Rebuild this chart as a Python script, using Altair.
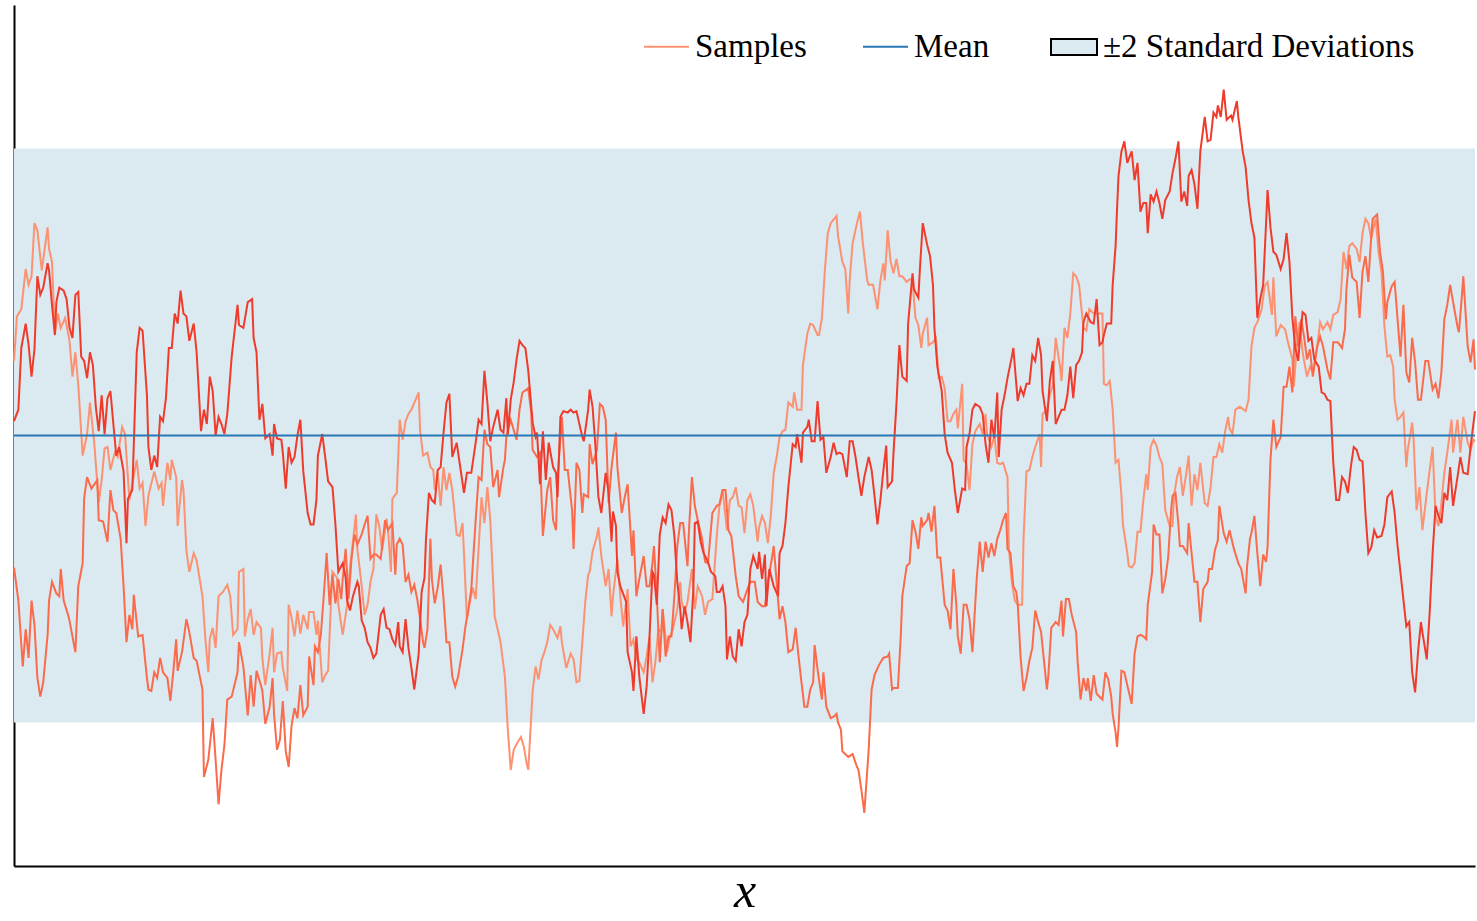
import altair as alt
import pandas as pd

# ---------------- data (x in arbitrary input units 0..10, y in standard deviations) ----------------
x_domain = [0, 10]
y_domain = [-3, 3]
mean_level = 0.0
band_half_width = 2.0
split_x = 4.86  # where the light and medium samples touch and swap paths

series_names = ["Samples", "Sample 2", "Sample 3", "Mean"]
series_colors = ["#fc9272", "#fb6a4a", "#ef3b2c", "#2878b5"]
band_label = "\u00b12 Standard Deviations"
band_color = "#dbe9f1"

# path starting high on the left, ending in the lower path at the right
path_a = [
    (0, .52), (.02, .83), (.05, .88), (.08, 1.16), (.10, 1.05), (.12, 1.11), (.14, 1.48), (.16, 1.43), (.19, 1.15), (.23, 1.45),
    (.24, 1.30), (.26, 1.21), (.28, .71), (.30, .85), (.32, .75), (.35, .82), (.38, .66), (.40, .41), (.42, .58), (.44, .35),
    (.47, -.14), (.50, .01), (.52, .23), (.55, -.06), (.58, -.47), (.60, -.31), (.62, -.09), (.64, -.08), (.66, -.24), (.69, -.12),
    (.71, -.15), (.74, .06), (.76, .01), (.79, -.45), (.84, -.17), (.86, -.37), (.88, -.33), (.90, -.63), (.92, -.42), (.96, -.25),
    (.99, -.37), (1.01, -.33), (1.02, -.49), (1.05, -.19), (1.07, -.31), (1.08, -.17), (1.11, -.29), (1.12, -.63), (1.15, -.31), (1.16, -.38),
    (1.18, -.80), (1.20, -.95), (1.23, -.82), (1.25, -.87), (1.29, -1.12), (1.31, -1.42), (1.33, -1.65), (1.34, -1.42), (1.36, -1.34), (1.38, -1.48),
    (1.40, -1.12), (1.43, -1.09), (1.46, -1.04), (1.48, -1.12), (1.50, -1.39), (1.53, -1.35), (1.54, -.95), (1.57, -.93), (1.58, -1.40), (1.60, -1.28),
    (1.62, -1.21), (1.64, -1.39), (1.66, -1.30), (1.69, -1.34), (1.70, -1.55), (1.72, -1.74), (1.75, -1.52), (1.77, -1.34), (1.78, -1.65), (1.80, -1.52),
    (1.83, -1.51), (1.84, -1.62), (1.87, -1.78), (1.88, -1.18), (1.90, -1.27), (1.92, -1.40), (1.94, -1.22), (1.96, -1.38), (1.98, -1.25), (2.01, -1.35),
    (2.02, -1.23), (2.05, -1.23), (2.07, -1.39), (2.08, -1.29), (2.11, -1.72), (2.13, -1.67), (2.15, -1.64), (2.17, -1.15), (2.18, -.95), (2.21, -.99),
    (2.22, -1.18), (2.25, -1.39), (2.26, -1.32), (2.28, -1.18), (2.30, -.92), (2.32, -.74), (2.34, -.55), (2.35, -.79), (2.38, -1.05), (2.40, -1.25),
    (2.42, -1.18), (2.44, -1.02), (2.46, -.93), (2.48, -.55), (2.50, -.63), (2.52, -.80), (2.55, -.58), (2.56, -.66), (2.58, -.95), (2.59, -.44),
    (2.62, -.40), (2.64, .11), (2.66, -.03), (2.68, .10), (2.70, .15), (2.72, .18), (2.77, .30), (2.78, .03), (2.80, -.14), (2.83, -.12),
    (2.85, -.22), (2.87, -.24), (2.88, -.38), (2.90, -.26), (2.92, -.49), (2.94, -.22), (2.96, -.38), (2.98, -.26), (3.00, -.38), (3.03, -.69),
    (3.05, -.70), (3.07, -.61), (3.08, -.82), (3.10, -1.28), (3.12, -1.16), (3.14, -1.06), (3.16, -1.14), (3.18, -.79), (3.20, -.43), (3.22, -.61),
    (3.24, -.36), (3.26, -.59), (3.29, -1.26), (3.33, -1.44), (3.36, -1.68), (3.38, -2.05), (3.40, -2.33), (3.42, -2.19), (3.44, -2.15), (3.47, -2.10),
    (3.49, -2.17), (3.51, -2.29), (3.52, -2.33), (3.55, -1.78), (3.57, -1.61), (3.59, -1.70), (3.61, -1.57), (3.63, -1.51), (3.65, -1.44), (3.67, -1.32),
    (3.69, -1.35), (3.72, -1.41), (3.74, -1.33), (3.75, -1.44), (3.78, -1.62), (3.81, -1.52), (3.83, -1.56), (3.85, -1.72), (3.87, -1.71), (3.89, -1.44),
    (3.91, -1.16), (3.93, -.97), (3.94, -.95), (3.96, -.81), (3.99, -.70), (4.00, -.64), (4.02, -.84), (4.05, -1.05), (4.07, -.93), (4.09, -1.26),
    (4.10, -1.12), (4.13, -.86), (4.15, -1.12), (4.17, -1.33), (4.20, -1.07), (4.22, -1.47), (4.24, -1.42), (4.26, -1.56), (4.28, -1.58), (4.31, -1.65),
    (4.33, -1.54), (4.35, -1.40), (4.37, -1.72), (4.39, -1.58), (4.41, -1.35), (4.43, -1.37), (4.44, -1.21), (4.47, -1.51), (4.49, -1.40), (4.51, -1.35),
    (4.54, -1.21), (4.56, -1.02), (4.57, -1.16), (4.59, -1.23), (4.61, -1.16), (4.64, -.93), (4.66, -1.21), (4.68, -1.05), (4.71, -1.12), (4.73, -1.25),
    (4.75, -1.16), (4.78, -1.14), (4.81, -.70), (4.83, -.47), (4.85, -.38), (4.87, -.38), (4.89, -.66), (4.91, -.70), (4.94, -.98), (4.96, -1.12),
    (4.99, -1.16), (5.02, -1.07), (5.04, -1.02), (5.07, -1.02), (5.09, -1.16), (5.12, -1.19), (5.14, -1.19), (5.16, -1.02), (5.19, -.84), (5.20, -.77),
    (5.22, -1.02), (5.24, -1.28), (5.26, -1.19), (5.28, -1.30), (5.30, -1.51), (5.33, -1.49), (5.35, -1.34), (5.37, -1.54), (5.39, -1.72), (5.41, -1.89),
    (5.43, -1.89), (5.45, -1.77), (5.47, -1.72), (5.48, -1.46), (5.50, -1.63), (5.53, -1.84), (5.54, -1.65), (5.56, -1.89), (5.59, -1.97), (5.61, -1.96),
    (5.63, -1.94), (5.64, -2.00), (5.66, -2.05), (5.67, -2.20), (5.71, -2.24), (5.74, -2.22), (5.77, -2.31), (5.78, -2.33), (5.80, -2.47), (5.82, -2.63),
    (5.85, -2.19), (5.87, -1.77), (5.89, -1.67), (5.92, -1.60), (5.95, -1.55), (5.98, -1.54), (5.99, -1.52), (6.01, -1.77), (6.02, -1.76), (6.05, -1.76),
    (6.07, -1.39), (6.08, -1.12), (6.11, -.91), (6.13, -.89), (6.15, -.59), (6.17, -.67), (6.19, -.79), (6.21, -.57), (6.22, -.63), (6.25, -.59),
    (6.26, -.54), (6.28, -.67), (6.30, -.49), (6.32, -.85), (6.34, -.85), (6.37, -1.18), (6.39, -1.22), (6.41, -1.35), (6.43, -.93), (6.45, -1.18),
    (6.46, -1.40), (6.48, -1.52), (6.50, -1.18), (6.52, -1.18), (6.54, -1.28), (6.56, -1.51), (6.59, -.99), (6.61, -.74), (6.63, -.95), (6.65, -.74),
    (6.67, -.85), (6.69, -.75), (6.71, -.84), (6.73, -.72), (6.75, -.66), (6.77, -.59), (6.79, -.54), (6.80, -.79), (6.82, -.82), (6.84, -1.05),
    (6.86, -1.09), (6.87, -1.17), (6.89, -1.55), (6.91, -1.78), (6.93, -1.69), (6.95, -1.57), (6.97, -1.48), (6.99, -1.22), (7.01, -1.30), (7.03, -1.37),
    (7.05, -1.57), (7.07, -1.77), (7.08, -1.67), (7.10, -1.34), (7.13, -1.30), (7.15, -1.32), (7.17, -1.15), (7.18, -1.40), (7.20, -1.14), (7.22, -1.14),
    (7.24, -1.25), (7.27, -1.37), (7.28, -1.57), (7.30, -1.84), (7.32, -1.69), (7.34, -1.78), (7.35, -1.69), (7.37, -1.85), (7.39, -1.67), (7.41, -1.80),
    (7.43, -1.82), (7.45, -1.84), (7.47, -1.65), (7.49, -1.70), (7.51, -1.82), (7.52, -1.94), (7.54, -2.07), (7.55, -2.17), (7.56, -2.03), (7.58, -1.64),
    (7.60, -1.65), (7.62, -1.74), (7.65, -1.87), (7.67, -1.52), (7.69, -1.40), (7.71, -1.39), (7.73, -1.40), (7.75, -1.42), (7.76, -1.18), (7.79, -.95),
    (7.80, -.62), (7.82, -.69), (7.84, -.69), (7.86, -1.10), (7.88, -1.00), (7.90, -.85), (7.92, -.52), (7.93, -.42), (7.95, -.40), (7.97, -.62),
    (7.98, -.77), (8.00, -.77), (8.03, -.82), (8.04, -.61), (8.06, -.82), (8.08, -1.02), (8.10, -1.02), (8.12, -1.30), (8.14, -1.07), (8.17, -1.02),
    (8.18, -.93), (8.20, -.93), (8.22, -.80), (8.24, -.73), (8.25, -.49), (8.28, -.68), (8.30, -.74), (8.32, -.66), (8.35, -.79), (8.38, -.89),
    (8.40, -.93), (8.43, -1.10), (8.44, -.91), (8.46, -.72), (8.47, -.68), (8.49, -.56), (8.51, -.82), (8.53, -1.05), (8.55, -.83), (8.57, -.88),
    (8.58, -.78), (8.60, -.17), (8.62, .11), (8.64, -.08), (8.67, -.01), (8.69, .34), (8.71, .34), (8.73, .48), (8.75, .30), (8.77, .83),
    (8.79, .62), (8.81, .81), (8.83, .69), (8.85, .53), (8.87, .60), (8.89, .41), (8.92, .62), (8.94, .69), (8.96, .62), (8.99, .46),
    (9.01, .39), (9.03, .65), (9.06, .65), (9.09, .61), (9.11, .74), (9.12, 1.02), (9.14, 1.26), (9.16, 1.10), (9.19, 1.07), (9.21, .82),
    (9.23, 1.14), (9.25, 1.25), (9.27, 1.07), (9.29, 1.39), (9.30, 1.51), (9.33, 1.54), (9.35, 1.28), (9.37, 1.14), (9.39, .81), (9.40, .93),
    (9.43, 1.04), (9.45, 1.07), (9.47, .81), (9.49, .55), (9.51, .91), (9.53, .44), (9.55, .37), (9.57, .68), (9.59, .51), (9.61, .25),
    (9.63, .25), (9.66, .52), (9.68, .52), (9.71, .32), (9.73, .36), (9.75, .26), (9.77, .44), (9.79, .81), (9.81, .91), (9.83, 1.05),
    (9.85, .93), (9.88, .76), (9.89, .72), (9.91, .97), (9.92, 1.11), (9.95, .62), (9.97, .51), (9.99, .67), (10.0, .46),
]

# path starting low on the left, ending in the upper path at the right
path_b = [
    (0, -.92), (.03, -1.15), (.06, -1.61), (.08, -1.35), (.10, -1.55), (.12, -1.15), (.14, -1.32), (.16, -1.69), (.18, -1.82), (.20, -1.72),
    (.23, -1.39), (.24, -1.15), (.26, -1.02), (.29, -1.10), (.31, -1.12), (.32, -.93), (.34, -1.15), (.37, -1.25), (.38, -1.29), (.40, -1.40),
    (.42, -1.51), (.44, -1.05), (.47, -.89), (.48, -.44), (.50, -.29), (.53, -.37), (.57, -.31), (.58, -.59), (.61, -.60), (.64, -.74),
    (.66, -.38), (.68, -.52), (.70, -.54), (.73, -.72), (.75, -1.05), (.77, -1.44), (.79, -1.25), (.81, -1.35), (.82, -1.11), (.85, -1.40),
    (.88, -1.39), (.91, -1.69), (.92, -1.77), (.94, -1.78), (.96, -1.65), (.98, -1.69), (1.00, -1.55), (1.02, -1.65), (1.05, -1.69), (1.07, -1.85),
    (1.09, -1.65), (1.11, -1.42), (1.12, -1.64), (1.15, -1.51), (1.18, -1.28), (1.20, -1.37), (1.23, -1.55), (1.25, -1.57), (1.29, -1.77), (1.30, -2.38),
    (1.33, -2.26), (1.36, -1.97), (1.38, -2.26), (1.40, -2.57), (1.42, -2.33), (1.44, -2.16), (1.46, -1.84), (1.49, -1.82), (1.53, -1.65), (1.54, -1.44),
    (1.57, -1.61), (1.60, -1.95), (1.62, -1.67), (1.64, -1.89), (1.66, -1.64), (1.69, -1.74), (1.70, -1.78), (1.72, -2.01), (1.75, -1.89), (1.77, -1.69),
    (1.78, -1.94), (1.80, -2.19), (1.82, -2.12), (1.84, -1.85), (1.86, -2.20), (1.88, -2.31), (1.90, -2.02), (1.92, -1.90), (1.94, -1.97), (1.96, -1.74),
    (1.98, -1.95), (2.01, -1.89), (2.02, -1.54), (2.05, -1.74), (2.06, -1.47), (2.08, -1.51), (2.10, -1.39), (2.12, -1.12), (2.14, -.82), (2.16, -1.18),
    (2.18, -.97), (2.20, -1.17), (2.22, -1.00), (2.24, -1.14), (2.25, -1.00), (2.27, -.79), (2.29, -1.14), (2.31, -.86), (2.33, -.69), (2.35, -.76),
    (2.38, -.69), (2.40, -.62), (2.42, -.56), (2.44, -.86), (2.46, -.83), (2.48, -.83), (2.51, -.86), (2.54, -.59), (2.56, -.66), (2.59, -.61),
    (2.61, -.97), (2.62, -.76), (2.64, -.72), (2.66, -.76), (2.68, -1.02), (2.70, -.97), (2.72, -1.09), (2.74, -1.04), (2.76, -1.14), (2.78, -1.28),
    (2.80, -1.44), (2.81, -1.48), (2.83, -1.35), (2.85, -.72), (2.86, -1.00), (2.88, -1.17), (2.90, -1.06), (2.92, -.90), (2.94, -1.14), (2.96, -1.44),
    (2.98, -1.44), (3.00, -1.68), (3.02, -1.75), (3.04, -1.68), (3.07, -1.49), (3.09, -1.33), (3.11, -1.21), (3.13, -1.07), (3.16, -.59), (3.18, -.29),
    (3.20, -.31), (3.22, .04), (3.24, -.06), (3.26, -.08), (3.28, -.36), (3.31, -.24), (3.32, -.43), (3.35, -.22), (3.36, -.17), (3.37, -.01),
    (3.40, .11), (3.42, .04), (3.44, -.03), (3.46, .18), (3.48, .30), (3.52, .33), (3.54, .16), (3.55, -.10), (3.58, -.15), (3.60, -.12),
    (3.62, -.70), (3.65, -.38), (3.67, -.29), (3.69, -.59), (3.71, -.66), (3.72, -.31), (3.75, .13), (3.77, -.24), (3.79, -.24), (3.82, -.52),
    (3.83, -.79), (3.85, -.19), (3.87, -.24), (3.89, -.54), (3.90, -.41), (3.93, -.43), (3.94, -.06), (3.96, -.20), (3.99, -.10), (4.01, .22),
    (4.03, .20), (4.05, .11), (4.07, -.47), (4.09, -.22), (4.12, .02), (4.13, -.22), (4.16, -.54), (4.18, -.43), (4.20, -.34), (4.23, -.84),
    (4.24, -.66), (4.26, -1.12), (4.28, -1.00), (4.31, -.84), (4.33, -1.05), (4.35, -1.05), (4.37, -.89), (4.38, -.77), (4.40, -1.12), (4.42, -1.58),
    (4.44, -1.21), (4.46, -1.54), (4.48, -1.40), (4.50, -1.40), (4.52, -1.12), (4.54, -.77), (4.56, -.61), (4.58, -.61), (4.61, -.91), (4.62, -.66),
    (4.64, -.29), (4.66, -.49), (4.68, -.59), (4.71, -.72), (4.73, -.88), (4.75, -.89), (4.78, -.54), (4.81, -.49), (4.83, -.48), (4.85, -.38),
    (4.88, -.66), (4.90, -.45), (4.92, -.43), (4.94, -.36), (4.96, -.49), (4.98, -.50), (5.00, -.68), (5.02, -.45), (5.04, -.41), (5.06, -.49),
    (5.09, -.74), (5.10, -.64), (5.12, -.56), (5.14, -.61), (5.16, -.75), (5.18, -.56), (5.20, -.26), (5.22, -.15), (5.24, -.01), (5.26, .03),
    (5.28, .04), (5.30, .23), (5.33, .20), (5.34, .30), (5.36, .18), (5.39, .18), (5.40, .49), (5.43, .71), (5.45, .78), (5.47, .77),
    (5.50, .70), (5.51, .70), (5.53, .82), (5.55, 1.15), (5.57, 1.41), (5.59, 1.48), (5.63, 1.53), (5.64, 1.39), (5.67, 1.21), (5.69, 1.16),
    (5.71, .85), (5.72, 1.08), (5.74, 1.34), (5.77, 1.48), (5.79, 1.56), (5.81, 1.34), (5.84, 1.08), (5.85, 1.05), (5.88, 1.05), (5.91, .88),
    (5.93, 1.08), (5.95, 1.20), (5.96, 1.08), (5.98, 1.43), (6.00, 1.21), (6.02, 1.13), (6.04, 1.23), (6.06, 1.11), (6.08, 1.11), (6.11, 1.07),
    (6.13, 1.09), (6.15, 1.08), (6.17, .82), (6.19, .77), (6.21, .61), (6.22, .71), (6.25, .82), (6.26, .63), (6.29, .65), (6.31, .68),
    (6.33, .40), (6.35, .41), (6.37, .33), (6.39, .10), (6.41, .10), (6.43, .15), (6.45, .18), (6.46, .05), (6.49, .36), (6.50, -.17),
    (6.52, -.20), (6.54, -.38), (6.56, -.06), (6.58, .03), (6.61, .08), (6.63, .01), (6.65, .15), (6.66, .01), (6.69, -.08), (6.71, 0),
    (6.73, -.19), (6.75, -.20), (6.77, -.19), (6.80, -.29), (6.81, -.79), (6.83, -1.02), (6.85, -1.15), (6.87, -1.18), (6.90, -1.18), (6.91, -.72),
    (6.93, -.25), (6.95, -.24), (6.97, -.15), (6.99, -.08), (7.02, .01), (7.03, -.22), (7.04, .15), (7.07, .18), (7.09, .28), (7.11, .35),
    (7.13, .68), (7.14, .61), (7.16, .48), (7.17, .38), (7.19, .75), (7.21, .68), (7.23, .85), (7.25, 1.13), (7.27, 1.11), (7.29, 1.05),
    (7.31, .85), (7.32, .75), (7.34, .73), (7.36, .88), (7.39, .85), (7.41, .85), (7.45, .85), (7.46, .36), (7.48, .35), (7.50, .38),
    (7.52, .18), (7.54, -.19), (7.56, -.17), (7.58, -.42), (7.59, -.62), (7.62, -.82), (7.63, -.91), (7.65, -.92), (7.67, -.89), (7.69, -.67),
    (7.71, -.67), (7.73, -.45), (7.75, -.27), (7.76, -.38), (7.78, -.08), (7.80, -.03), (7.82, -.07), (7.84, -.15), (7.86, -.20), (7.88, -.52),
    (7.91, -.63), (7.93, -.63), (7.94, -.42), (7.96, -.29), (7.98, -.22), (8.00, -.42), (8.02, -.29), (8.04, -.14), (8.06, -.49), (8.08, -.27),
    (8.10, -.38), (8.12, -.19), (8.15, -.47), (8.17, -.49), (8.19, -.36), (8.21, -.15), (8.23, -.15), (8.25, -.06), (8.27, -.12), (8.29, .03),
    (8.31, .13), (8.32, .05), (8.34, .01), (8.36, .18), (8.39, .20), (8.43, .17), (8.45, .25), (8.47, .62), (8.49, .75), (8.51, .79),
    (8.54, .88), (8.56, 1.04), (8.58, 1.07), (8.61, .84), (8.62, 1.10), (8.64, .69), (8.67, .77), (8.70, .74), (8.72, .65), (8.75, .53),
    (8.76, .34), (8.78, .62), (8.80, .79), (8.82, .58), (8.85, .41), (8.87, .48), (8.89, .44), (8.92, .62), (8.94, .79), (8.96, .74),
    (8.99, .79), (9.01, .74), (9.03, .84), (9.06, .86), (9.08, .95), (9.10, 1.28), (9.12, 1.16), (9.14, 1.32), (9.16, 1.34), (9.19, 1.30),
    (9.21, 1.21), (9.23, 1.41), (9.25, 1.51), (9.27, 1.48), (9.29, 1.37), (9.32, 1.51), (9.34, 1.28), (9.36, 1.14), (9.38, .76), (9.40, .55),
    (9.42, .56), (9.44, .48), (9.45, .25), (9.47, .11), (9.49, .13), (9.51, .16), (9.53, -.22), (9.54, -.10), (9.57, .09), (9.58, -.03),
    (9.60, -.52), (9.62, -.36), (9.64, -.66), (9.67, -.40), (9.69, -.24), (9.71, -.08), (9.73, -.56), (9.75, -.63), (9.77, -.47), (9.79, -.26),
    (9.81, -.12), (9.84, .11), (9.85, -.12), (9.88, .11), (9.90, -.12), (9.92, .13), (9.95, -.05), (9.97, -.10), (9.99, -.03), (10.0, -.04),
]

dark_pts = [
    (0, .10), (.03, .18), (.05, .61), (.08, .78), (.10, .63), (.12, .41), (.14, .60), (.16, 1.11), (.18, .98), (.20, 1.03),
    (.23, 1.20), (.24, 1.15), (.26, .91), (.28, .70), (.29, .93), (.31, 1.03), (.34, 1.01), (.36, .95), (.38, .75), (.40, .68),
    (.42, .98), (.44, 1.00), (.46, .55), (.48, .52), (.50, .40), (.52, .58), (.54, .49), (.56, .20), (.58, .03), (.60, .28),
    (.62, .01), (.64, .26), (.66, .31), (.68, .08), (.70, -.14), (.72, -.08), (.75, -.25), (.77, -.75), (.78, -.44), (.81, -.38),
    (.84, .58), (.86, .75), (.88, .73), (.91, .28), (.92, -.08), (.94, -.24), (.96, -.14), (.98, -.22), (1.00, .13), (1.02, .10),
    (1.04, .26), (1.06, .61), (1.08, .61), (1.10, .85), (1.12, .78), (1.14, 1.01), (1.16, .85), (1.18, .83), (1.20, .66), (1.23, .78),
    (1.25, .58), (1.26, .40), (1.28, .03), (1.30, .18), (1.32, .08), (1.34, .41), (1.36, .31), (1.38, 0), (1.40, .13), (1.42, .08),
    (1.44, .01), (1.46, .15), (1.49, .55), (1.51, .73), (1.53, .91), (1.54, .77), (1.57, .75), (1.60, .93), (1.63, .95), (1.64, .68),
    (1.66, .58), (1.68, .11), (1.70, .22), (1.72, -.02), (1.75, .01), (1.77, -.14), (1.78, .08), (1.80, -.02), (1.83, -.03), (1.84, -.12),
    (1.86, -.37), (1.88, -.08), (1.90, -.19), (1.92, -.15), (1.94, 0), (1.96, .11), (1.98, -.25), (2.01, -.54), (2.03, -.62), (2.05, -.62),
    (2.07, -.45), (2.08, -.14), (2.11, .01), (2.13, -.15), (2.15, -.32), (2.18, -.36), (2.20, -.62), (2.22, -.95), (2.25, -.89), (2.27, -.99),
    (2.28, -1.15), (2.30, -1.22), (2.32, -1.12), (2.35, -1.02), (2.36, -1.05), (2.38, -1.29), (2.40, -1.34), (2.42, -1.44), (2.44, -1.48), (2.46, -1.55),
    (2.48, -1.52), (2.51, -1.25), (2.53, -1.21), (2.55, -1.34), (2.57, -1.35), (2.59, -1.42), (2.61, -1.46), (2.63, -1.30), (2.64, -1.47), (2.66, -1.51),
    (2.68, -1.28), (2.70, -1.48), (2.72, -1.62), (2.74, -1.77), (2.77, -1.52), (2.79, -1.09), (2.81, -.99), (2.82, -.72), (2.84, -.40), (2.86, -.45),
    (2.88, -.47), (2.90, -.24), (2.92, -.22), (2.94, .02), (2.96, .23), (2.98, .29), (3.00, -.15), (3.03, -.05), (3.05, -.19), (3.08, -.40),
    (3.10, -.26), (3.13, -.26), (3.16, -.05), (3.18, .11), (3.20, .08), (3.22, .45), (3.24, .23), (3.26, -.04), (3.28, .06), (3.31, .18),
    (3.33, .04), (3.35, .02), (3.37, .26), (3.38, .01), (3.40, .25), (3.42, .37), (3.44, .53), (3.46, .66), (3.48, .63), (3.50, .61),
    (3.52, .45), (3.55, .09), (3.57, -.01), (3.58, .02), (3.60, -.34), (3.62, .03), (3.64, -.31), (3.66, -.05), (3.69, -.22), (3.71, -.26),
    (3.72, -.43), (3.74, .13), (3.76, .17), (3.79, .16), (3.81, .18), (3.83, .16), (3.85, .17), (3.89, -.01), (3.90, -.04), (3.93, .18),
    (3.94, .32), (3.96, .20), (3.98, -.08), (4.00, -.43), (4.02, -.54), (4.05, -.26), (4.07, -.40), (4.09, -.74), (4.10, -.53), (4.12, -.63),
    (4.13, -.95), (4.15, -1.05), (4.19, -1.16), (4.20, -1.51), (4.23, -1.65), (4.24, -1.78), (4.26, -1.40), (4.28, -1.68), (4.31, -1.94), (4.33, -1.75),
    (4.35, -1.40), (4.37, -.95), (4.38, -.97), (4.40, -1.18), (4.42, -.69), (4.44, -.57), (4.46, -.61), (4.48, -.48), (4.50, -.52), (4.52, -.70),
    (4.54, -1.02), (4.56, -1.21), (4.57, -1.35), (4.59, -1.19), (4.61, -1.30), (4.63, -1.44), (4.65, -1.07), (4.66, -.61), (4.68, -.60), (4.70, -.74),
    (4.72, -.82), (4.75, -.88), (4.77, -.95), (4.80, -.98), (4.81, -1.09), (4.83, -1.09), (4.85, -1.05), (4.87, -1.19), (4.88, -1.56), (4.90, -1.40),
    (4.92, -1.54), (4.94, -1.57), (4.96, -1.35), (4.98, -1.47), (5.00, -1.30), (5.02, -1.25), (5.04, -.93), (5.06, -.84), (5.09, -.93), (5.10, -.81),
    (5.12, -1.00), (5.14, -.83), (5.15, -1.19), (5.17, -.93), (5.20, -1.05), (5.23, -1.12), (5.24, -.82), (5.26, -.77), (5.28, -.61), (5.30, -.36),
    (5.33, -.06), (5.35, -.08), (5.36, .01), (5.39, -.19), (5.40, .02), (5.43, .06), (5.44, .11), (5.46, -.04), (5.48, -.04), (5.50, .24),
    (5.52, -.03), (5.54, -.01), (5.56, -.26), (5.59, -.15), (5.61, -.05), (5.63, -.13), (5.65, -.12), (5.67, -.13), (5.70, -.29), (5.72, -.04),
    (5.74, -.04), (5.76, -.15), (5.78, -.29), (5.80, -.42), (5.82, -.29), (5.85, -.15), (5.87, -.24), (5.89, -.42), (5.91, -.62), (5.93, -.45),
    (5.95, -.25), (5.97, -.07), (5.98, -.36), (6.01, -.32), (6.02, -.12), (6.04, .22), (6.06, .63), (6.08, .41), (6.11, .38), (6.12, .78),
    (6.15, 1.13), (6.16, 1.02), (6.19, .96), (6.20, 1.15), (6.22, 1.48), (6.25, 1.33), (6.27, 1.25), (6.29, 1.05), (6.30, .75), (6.32, .48),
    (6.35, .31), (6.37, .01), (6.39, -.12), (6.42, -.19), (6.44, -.38), (6.46, -.54), (6.49, -.37), (6.51, -.38), (6.52, -.08), (6.54, .01),
    (6.56, .18), (6.58, .22), (6.61, .20), (6.63, .15), (6.65, -.06), (6.67, -.19), (6.69, .11), (6.71, -.02), (6.73, .30), (6.74, -.15),
    (6.76, .18), (6.78, .28), (6.80, .40), (6.83, .55), (6.84, .61), (6.87, .24), (6.89, .33), (6.91, .28), (6.93, .36), (6.95, .36),
    (6.97, .56), (6.99, .52), (7.01, .68), (7.03, .56), (7.04, .31), (7.07, .10), (7.09, .38), (7.11, .52), (7.13, .08), (7.15, .13),
    (7.17, .18), (7.19, .18), (7.21, .28), (7.23, .48), (7.25, .26), (7.27, .49), (7.29, .52), (7.31, .58), (7.32, .79), (7.34, .85),
    (7.37, .79), (7.39, .78), (7.41, .95), (7.43, .63), (7.45, .65), (7.46, .70), (7.48, .78), (7.51, .78), (7.52, 1.05), (7.54, 1.32),
    (7.55, 1.58), (7.56, 1.81), (7.58, 1.98), (7.60, 2.05), (7.62, 1.90), (7.65, 1.98), (7.67, 1.78), (7.69, 1.90), (7.71, 1.56), (7.73, 1.62),
    (7.75, 1.62), (7.76, 1.41), (7.78, 1.68), (7.80, 1.63), (7.82, 1.70), (7.84, 1.62), (7.86, 1.51), (7.88, 1.64), (7.91, 1.70), (7.93, 1.83),
    (7.95, 1.93), (7.97, 2.05), (7.99, 1.63), (8.01, 1.70), (8.03, 1.60), (8.04, 1.81), (8.06, 1.85), (8.08, 1.75), (8.10, 1.58), (8.12, 1.98),
    (8.15, 2.22), (8.17, 2.05), (8.19, 2.06), (8.21, 2.25), (8.23, 2.22), (8.24, 2.30), (8.26, 2.22), (8.28, 2.41), (8.30, 2.20), (8.33, 2.23),
    (8.34, 2.20), (8.37, 2.33), (8.38, 2.22), (8.41, 1.98), (8.43, 1.87), (8.45, 1.64), (8.47, 1.48), (8.49, 1.38), (8.51, .82), (8.53, .95),
    (8.55, 1.05), (8.57, 1.48), (8.58, 1.71), (8.60, 1.45), (8.62, 1.28), (8.64, 1.26), (8.67, 1.16), (8.69, 1.23), (8.71, 1.41), (8.73, 1.21),
    (8.75, .82), (8.77, .61), (8.79, .52), (8.80, .65), (8.82, .86), (8.84, .84), (8.86, .66), (8.88, .68), (8.90, .53), (8.93, .48),
    (8.95, .30), (8.97, .29), (8.99, .25), (9.01, .24), (9.03, -.19), (9.05, -.45), (9.07, -.45), (9.09, -.29), (9.11, -.32), (9.13, -.40),
    (9.15, -.22), (9.17, -.08), (9.19, -.10), (9.21, -.17), (9.23, -.18), (9.25, -.54), (9.27, -.82), (9.29, -.78), (9.31, -.66), (9.33, -.71),
    (9.36, -.70), (9.38, -.62), (9.40, -.43), (9.43, -.39), (9.45, -.54), (9.47, -.77), (9.50, -1.05), (9.53, -1.33), (9.55, -1.30), (9.57, -1.65),
    (9.59, -1.79), (9.61, -1.51), (9.63, -1.30), (9.64, -1.37), (9.67, -1.56), (9.69, -1.23), (9.71, -.82), (9.73, -.49), (9.75, -.56), (9.77, -.61),
    (9.79, -.40), (9.81, -.45), (9.83, -.22), (9.85, -.49), (9.88, -.29), (9.90, -.15), (9.92, -.26), (9.95, -.27), (9.97, -.08), (9.99, .09), (10.0, .17),
]

# the two lighter samples touch near split_x and swap paths there
light_pts = [p for p in path_a if p[0] < split_x] + [p for p in path_b if p[0] >= split_x]
medium_pts = [p for p in path_b if p[0] < split_x] + [p for p in path_a if p[0] >= split_x]

# ---------------- build tables ----------------
rows = []
for name, pts in (("Samples", light_pts), ("Sample 2", medium_pts), ("Sample 3", dark_pts)):
    for i, (xv, yv) in enumerate(pts):
        rows.append({"x": xv, "y": yv, "series": name, "order": i})
for i, xv in enumerate(x_domain):
    rows.append({"x": xv, "y": mean_level, "series": "Mean", "order": i})
lines_df = pd.DataFrame(rows)

band_df = pd.DataFrame({
    "x": x_domain,
    "lo": [mean_level - band_half_width] * 2,
    "hi": [mean_level + band_half_width] * 2,
    "band": [band_label] * 2,
})

FONT = "Liberation Serif"

x_enc = alt.X(
    "x:Q",
    scale=alt.Scale(domain=x_domain, nice=False, zero=False),
    axis=alt.Axis(
        title="x", labels=False, ticks=False, grid=False,
        domainColor="black", domainWidth=2,
        titleFont=FONT, titleFontStyle="italic", titleFontWeight="normal",
        titleFontSize=50, titleColor="black", titleBaseline="alphabetic", titlePadding=40,
    ),
)
y_enc = alt.Y(
    "y:Q",
    scale=alt.Scale(domain=y_domain, nice=False, zero=False),
    axis=alt.Axis(title=None, labels=False, ticks=False, grid=False, domainColor="black", domainWidth=2),
)

band = alt.Chart(band_df).mark_area(opacity=1).encode(
    x=x_enc,
    y=alt.Y("lo:Q", scale=alt.Scale(domain=y_domain, nice=False, zero=False)),
    y2="hi:Q",
    fill=alt.Fill(
        "band:N",
        scale=alt.Scale(domain=[band_label], range=[band_color]),
        legend=alt.Legend(
            title=None, orient="none", legendX=1036, legendY=18, padding=0,
            symbolType="M-1,-0.35L1,-0.35L1,0.35L-1,0.35Z", symbolSize=2116,
            symbolStrokeColor="black", symbolStrokeWidth=2, symbolFillColor=band_color,
            labelFont=FONT, labelFontSize=33, labelColor="black", labelOffset=5, labelLimit=800,
        ),
    ),
)

lines = alt.Chart(lines_df).mark_line(strokeWidth=2).encode(
    x=x_enc,
    y=y_enc,
    color=alt.Color(
        "series:N",
        scale=alt.Scale(domain=series_names, range=series_colors),
        legend=alt.Legend(
            title=None, orient="none", legendX=629, legendY=18, padding=0,
            direction="horizontal", values=["Samples", "Mean"],
            symbolType="stroke", symbolSize=2025, symbolStrokeWidth=2,
            labelFont=FONT, labelFontSize=33, labelColor="black", labelOffset=5,
            columnPadding=52, labelLimit=800,
        ),
    ),
    order="order:Q",
)

chart = (
    alt.layer(band, lines)
    .resolve_scale(color="independent", fill="independent")
    .properties(width=1461, height=861, padding={"left": 14, "top": 5, "right": 2, "bottom": 55}, autosize="none", background="white")
    .configure_view(stroke=None)
)

chart.save("out.html", embed_options={"renderer": "svg", "actions": False})
